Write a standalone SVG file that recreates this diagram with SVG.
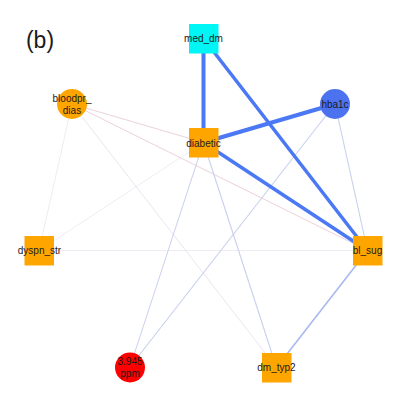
<svg xmlns="http://www.w3.org/2000/svg" width="407" height="407" viewBox="0 0 407 407">
<style>
text{font-family:"Liberation Sans",Arial,sans-serif;font-size:10px;fill:#1a1a1a;text-anchor:middle}
.sq{fill:#FFA500}
.strong{stroke:#4B78F4;fill:none}
.mid{stroke:#A9B9EE;fill:none}
.weak{stroke:#C8D0EE;fill:none}
.pink{stroke:#E6CDD6;fill:none}
.faint{stroke:#ECE6F0;fill:none}
</style>
<rect width="407" height="407" fill="#fff"/>
<text x="40" y="48" style="font-size:23px;text-anchor:middle">(b)</text>
<g id="edges">
<line class="faint" x1="39" y1="250.5" x2="367.5" y2="250.5" stroke-width="0.8"/>
<line class="faint" x1="72" y1="104" x2="39" y2="250.5" stroke-width="0.8"/>
<line class="faint" x1="203.5" y1="142.5" x2="39" y2="250.5" stroke-width="0.8"/>
<line class="faint" x1="72" y1="104" x2="276.5" y2="367.5" stroke-width="0.8" style="stroke:#E4DDEB"/>
<line class="pink" x1="72" y1="104" x2="203.5" y2="142.5" stroke-width="0.9"/>
<line class="pink" x1="72" y1="104" x2="367.5" y2="250.5" stroke-width="0.9"/>
<line class="weak" x1="335" y1="104" x2="130" y2="367" stroke-width="1.1"/>
<line class="weak" x1="335" y1="104" x2="367.5" y2="250.5" stroke-width="1.1"/>
<line class="weak" x1="203.5" y1="142.5" x2="276.5" y2="367.5" stroke-width="1.1"/>
<line class="weak" x1="203.5" y1="142.5" x2="130" y2="367" stroke-width="1"/>
<line class="mid" x1="367.5" y1="250.5" x2="276.5" y2="367.5" stroke-width="1.6"/>
<line class="strong" x1="203.5" y1="38.5" x2="203.5" y2="142.5" stroke-width="4"/>
<line class="strong" x1="203.5" y1="38.5" x2="367.5" y2="250.5" stroke-width="3.5"/>
<line class="strong" x1="335" y1="104" x2="203.5" y2="142.5" stroke-width="4"/>
<line class="strong" x1="203.5" y1="142.5" x2="367.5" y2="250.5" stroke-width="3.5"/>
</g>
<g id="med_dm"><rect x="189" y="24" width="29.5" height="29.5" fill="#00F5F5"/><text x="203.5" y="42">med_dm</text></g>
<g id="bloodpr_dias"><circle cx="72" cy="104" r="15" fill="#FFA500"/><text x="72" y="102">bloodpr_</text><text x="72" y="114">dias</text></g>
<g id="hba1c"><circle cx="335" cy="104" r="15" fill="#4D72F0"/><text x="335" y="108">hba1c</text></g>
<g id="diabetic"><rect class="sq" x="189" y="128" width="29.5" height="29.5"/><text x="203.5" y="147">diabetic</text></g>
<g id="dyspn_str"><rect class="sq" x="24.5" y="236" width="29.5" height="29.5"/><text x="39.5" y="254">dyspn_str</text></g>
<g id="bl_sug"><rect class="sq" x="353" y="236" width="29.5" height="29.5"/><text x="367.5" y="254">bl_sug</text></g>
<g id="ppm"><circle cx="130" cy="367.5" r="15" fill="#FF0000"/><text x="130" y="365">3.945</text><text x="130" y="377">ppm</text></g>
<g id="dm_typ2"><rect class="sq" x="262" y="353" width="29.5" height="29.5"/><text x="276.5" y="370.5">dm_typ2</text></g>
</svg>
